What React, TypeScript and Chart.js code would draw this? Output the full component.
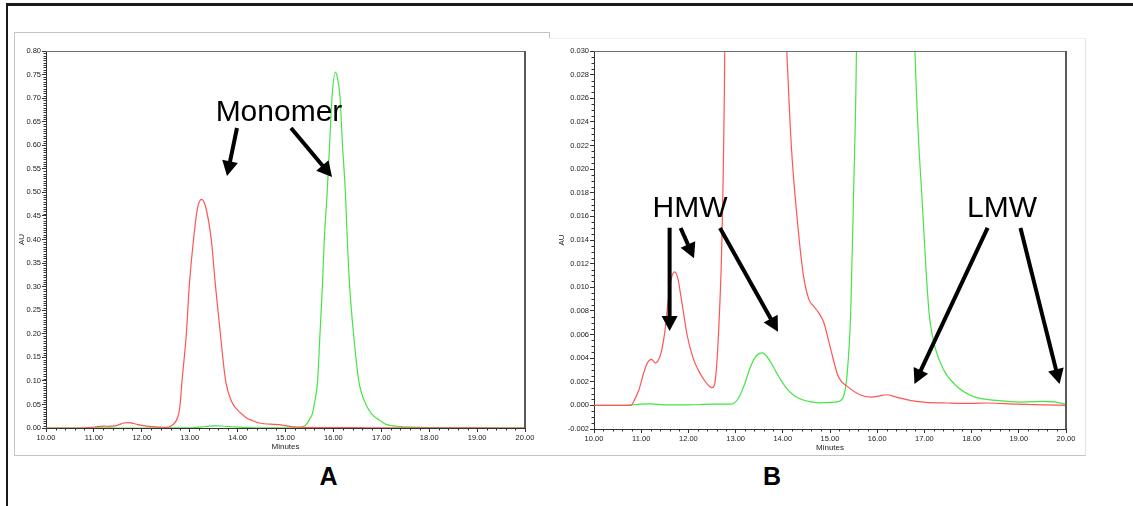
import React, { useEffect, useRef } from "react";
import { Chart, registerables } from "chart.js";

Chart.register(...registerables);

// ---------- data (minutes, AU) ----------
const redTime = [10.0, 10.5, 10.78, 10.85, 10.95, 11.05, 11.13, 11.22, 11.3, 11.36, 11.43, 11.5, 11.57, 11.63, 11.71, 11.78, 11.83, 11.89, 11.97, 12.1, 12.22, 12.36, 12.45, 12.5, 12.55, 12.58, 12.61, 12.66, 12.71, 12.77, 12.8, 12.84, 12.93, 12.99, 13.08, 13.16, 13.25, 13.33, 13.45, 13.54, 13.64, 13.75, 13.88, 14.0, 14.09, 14.18, 14.3, 14.43, 14.55, 14.65, 14.75, 14.87, 15.0, 15.17, 15.4, 15.63, 15.87, 16.05, 16.2, 16.4, 16.72, 17.03, 17.5, 18.0, 18.34, 18.96, 19.5, 20.0];
const redAU = [0, 0, 0, 0.0004, 0.0013, 0.0027, 0.0036, 0.0039, 0.0036, 0.0038, 0.0046, 0.0062, 0.0088, 0.0106, 0.0113, 0.0107, 0.0095, 0.008, 0.006, 0.004, 0.0029, 0.002, 0.0016, 0.0015, 0.0017, 0.0025, 0.004, 0.008, 0.014, 0.03, 0.05, 0.1, 0.2, 0.3, 0.4, 0.465, 0.485, 0.47, 0.4, 0.3, 0.2, 0.1, 0.055, 0.038, 0.0295, 0.022, 0.016, 0.0112, 0.009, 0.0084, 0.0079, 0.007, 0.005, 0.0025, 0.0015, 0.0009, 0.0007, 0.0008, 0.0009, 0.0007, 0.0004, 0.00025, 0.0002, 0.00017, 0.0002, 0.0001, 0.00005, 0];

const greenTime = [10.0, 10.6, 11.0, 11.2, 11.5, 12.0, 12.5, 12.9, 13.0, 13.1, 13.2, 13.31, 13.42, 13.5, 13.57, 13.65, 13.75, 13.85, 13.95, 14.09, 14.25, 14.4, 14.6, 14.8, 15.0, 15.15, 15.22, 15.29, 15.36, 15.44, 15.5, 15.56, 15.6, 15.67, 15.72, 15.77, 15.81, 15.87, 15.92, 15.97, 16.04, 16.09, 16.14, 16.19, 16.25, 16.29, 16.34, 16.42, 16.53, 16.68, 16.8, 16.87, 16.95, 17.03, 17.1, 17.22, 17.41, 17.65, 18.03, 18.58, 19.04, 19.5, 19.74, 20.0];
const greenAU = [0, 0, 0.0001, 0.00012, 0.00005, 0.00005, 0.0001, 0.0001, 0.0003, 0.0009, 0.0019, 0.0032, 0.0041, 0.0044, 0.00445, 0.0042, 0.0036, 0.0029, 0.0022, 0.0014, 0.0008, 0.0005, 0.0003, 0.00022, 0.00025, 0.0003, 0.0004, 0.0008, 0.0025, 0.008, 0.018, 0.03, 0.05, 0.1, 0.2, 0.3, 0.4, 0.5, 0.6, 0.7, 0.755, 0.74, 0.7, 0.6, 0.5, 0.4, 0.3, 0.2, 0.1, 0.05, 0.03, 0.023, 0.0175, 0.0118, 0.0078, 0.005, 0.003, 0.00175, 0.00076, 0.0004, 0.00028, 0.00034, 0.0003, 0.0001];

// annotations in data coordinates (minutes, AU)
type Txt = { text: string; x: number; y: number };
type Arw = { x1: number; y1: number; x2: number; y2: number };

const textsA: Txt[] = [{ text: "Monomer", x: 14.864, y: 0.6515 }];
const arrowsA: Arw[] = [
  { x1: 13.987, y1: 0.6366, x2: 13.779, y2: 0.5347 },
  { x1: 15.115, y1: 0.6366, x2: 15.971, y2: 0.5326 },
];
const textsB: Txt[] = [
  { text: "HMW", x: 12.034, y: 0.01595 },
  { text: "LMW", x: 18.644, y: 0.01595 },
];
const arrowsB: Arw[] = [
  { x1: 11.602, y1: 0.01504, x2: 11.602, y2: 0.0063 },
  { x1: 11.835, y1: 0.01502, x2: 12.119, y2: 0.01245 },
  { x1: 12.669, y1: 0.01502, x2: 13.898, y2: 0.00624 },
  { x1: 18.339, y1: 0.01502, x2: 16.79, y2: 0.00181 },
  { x1: 19.036, y1: 0.01502, x2: 19.864, y2: 0.00181 },
];

const RED = "rgb(255, 85, 85)";
const GREEN = "rgb(70, 228, 70)";
const TICK_FONT = "'Liberation Sans Narrow', 'Liberation Sans', Arial, sans-serif";
const TEXT_FONT = "'Liberation Sans', Arial, sans-serif";

type Panel = {
  left: number; top: number; width: number; height: number;
  yMin: number; yMax: number; yStep: number; yMinor: number; yDigits: number;
  yAxisW: number; xAxisH: number; padRight: number; padTop: number;
  xTitlePad: number; yTitlePad: number;
  texts: Txt[]; arrows: Arw[];
};

const panelA: Panel = {
  left: 14, top: 32, width: 536, height: 424,
  yMin: 0, yMax: 0.8, yStep: 0.05, yMinor: 0.005, yDigits: 2,
  yAxisW: 32, xAxisH: 28, padRight: 25, padTop: 19,
  xTitlePad: 4.5, yTitlePad: 3.2,
  texts: textsA, arrows: arrowsA,
};
const panelB: Panel = {
  left: 549, top: 38, width: 537, height: 418,
  yMin: -0.002, yMax: 0.03, yStep: 0.002, yMinor: 0.0005, yDigits: 3,
  yAxisW: 45, xAxisH: 27, padRight: 20, padTop: 13,
  xTitlePad: 3.5, yTitlePad: 8.2,
  texts: textsB, arrows: arrowsB,
};

function drawArrow(ctx: CanvasRenderingContext2D, x1: number, y1: number, x2: number, y2: number) {
  const dx = x2 - x1, dy = y2 - y1;
  const len = Math.hypot(dx, dy);
  const ux = dx / len, uy = dy / len;
  const hl = 15, hw = 8;
  const bx = x2 - ux * hl, by = y2 - uy * hl;
  ctx.strokeStyle = "#000";
  ctx.lineWidth = 4;
  ctx.lineCap = "butt";
  ctx.beginPath();
  ctx.moveTo(x1, y1);
  ctx.lineTo(bx + ux * 2, by + uy * 2);
  ctx.stroke();
  ctx.fillStyle = "#000";
  ctx.beginPath();
  ctx.moveTo(x2, y2);
  ctx.lineTo(bx - uy * hw, by + ux * hw);
  ctx.lineTo(bx + uy * hw, by - ux * hw);
  ctx.closePath();
  ctx.fill();
}

function buildChart(canvas: HTMLCanvasElement, p: Panel) {
  const xMinor = 0.2, xMajor = 1;
  const overlay = {
    id: "overlay",
    afterDraw(chart: any) {
      const { ctx, chartArea: ca } = chart;
      const xs = chart.scales.x, ys = chart.scales.y;
      ctx.save();
      // top & right frame of plot
      ctx.lineWidth = 1;
      ctx.strokeStyle = "#6e6e6e";
      ctx.beginPath();
      ctx.moveTo(ca.left, Math.round(ca.top) + 0.5);
      ctx.lineTo(ca.right, Math.round(ca.top) + 0.5);
      ctx.stroke();
      ctx.lineWidth = 2;
      ctx.strokeStyle = "#5a5a5a";
      ctx.beginPath();
      ctx.moveTo(Math.round(ca.right), ca.top);
      ctx.lineTo(Math.round(ca.right), ca.bottom);
      ctx.stroke();
      // minor ticks
      ctx.lineWidth = 1;
      ctx.strokeStyle = "#333";
      const nx = Math.round((xs.max - xs.min) / xMinor);
      const rx = Math.round(xMajor / xMinor);
      ctx.beginPath();
      for (let i = 0; i <= nx; i++) {
        if (i % rx === 0) continue;
        const px = Math.round(xs.getPixelForValue(xs.min + i * xMinor)) + 0.5;
        ctx.moveTo(px, ca.bottom);
        ctx.lineTo(px, ca.bottom + 2.5);
      }
      const ny = Math.round((ys.max - ys.min) / p.yMinor);
      const ry = Math.round(p.yStep / p.yMinor);
      for (let i = 0; i <= ny; i++) {
        if (i % ry === 0) continue;
        const py = Math.round(ys.getPixelForValue(ys.min + i * p.yMinor)) + 0.5;
        ctx.moveTo(ca.left, py);
        ctx.lineTo(ca.left - 2.5, py);
      }
      ctx.stroke();
      // annotation texts
      ctx.fillStyle = "#000";
      ctx.font = `30px ${TEXT_FONT}`;
      ctx.textAlign = "center";
      ctx.textBaseline = "alphabetic";
      for (const t of p.texts) {
        ctx.fillText(t.text, xs.getPixelForValue(t.x), ys.getPixelForValue(t.y));
      }
      for (const a of p.arrows) {
        drawArrow(
          ctx,
          xs.getPixelForValue(a.x1), ys.getPixelForValue(a.y1),
          xs.getPixelForValue(a.x2), ys.getPixelForValue(a.y2)
        );
      }
      ctx.restore();
    },
  };

  const redPoints = redTime.map((t, i) => ({ x: t, y: redAU[i] }));
  const greenPoints = greenTime.map((t, i) => ({ x: t, y: greenAU[i] }));

  return new Chart(canvas, {
    type: "line",
    data: {
      datasets: [
        { label: "Red", data: redPoints, borderColor: RED, borderWidth: 1.2, pointRadius: 0, cubicInterpolationMode: "monotone", fill: false },
        { label: "Green", data: greenPoints, borderColor: GREEN, borderWidth: 1.2, pointRadius: 0, cubicInterpolationMode: "monotone", fill: false },
      ],
    },
    options: {
      animation: false,
      responsive: false,
      devicePixelRatio: 1,
      events: [],
      layout: { padding: { left: 0, right: p.padRight, top: p.padTop, bottom: 0 } },
      plugins: { legend: { display: false }, tooltip: { enabled: false } },
      scales: {
        x: {
          type: "linear",
          min: 10,
          max: 20,
          afterFit(s: any) { s.height = p.xAxisH; },
          ticks: {
            stepSize: 1, autoSkip: false, maxRotation: 0, padding: 1,
            color: "#1a1a1a", font: { family: TICK_FONT, size: 7.5 },
            callback: (v: any) => Number(v).toFixed(2),
          },
          grid: { drawOnChartArea: false, drawTicks: true, tickLength: 4, tickColor: "#333", tickWidth: 1 },
          border: { color: "#333", width: 1 },
          title: {
            display: true, text: "Minutes", color: "#222",
            font: { family: TICK_FONT, size: 8 },
            padding: { top: 0, bottom: p.xTitlePad },
          },
        },
        y: {
          type: "linear",
          min: p.yMin,
          max: p.yMax,
          afterFit(s: any) { s.width = p.yAxisW; },
          ticks: {
            stepSize: p.yStep, autoSkip: false, padding: 1,
            color: "#1a1a1a", font: { family: TICK_FONT, size: 7.5 },
            callback: (v: any) => Number(v).toFixed(p.yDigits),
          },
          grid: { drawOnChartArea: false, drawTicks: true, tickLength: 4, tickColor: "#333", tickWidth: 1 },
          border: { color: "#333", width: 1 },
          title: {
            display: true, text: "AU", color: "#222",
            font: { family: TICK_FONT, size: 8 },
            padding: { top: p.yTitlePad, bottom: 0 },
          },
        },
      },
    },
    plugins: [overlay],
  } as any);
}

export default function App() {
  const refA = useRef<HTMLCanvasElement | null>(null);
  const refB = useRef<HTMLCanvasElement | null>(null);

  useEffect(() => {
    const a = refA.current ? buildChart(refA.current, panelA) : null;
    const b = refB.current ? buildChart(refB.current, panelB) : null;
    return () => {
      if (a) a.destroy();
      if (b) b.destroy();
    };
  }, []);

  const labelStyle = (cx: number): React.CSSProperties => ({
    position: "absolute",
    left: cx - 30,
    width: 60,
    top: 464,
    textAlign: "center",
    fontFamily: TEXT_FONT,
    fontWeight: "bold",
    fontSize: 25,
    lineHeight: "25px",
    color: "#000",
  });

  return (
    <div style={{ position: "fixed", left: 0, top: 0, width: 1133, height: 506, background: "#fff", overflow: "hidden" }}>
      <div style={{ position: "absolute", left: 6, top: 3, width: 1200, height: 600, borderTop: "3px solid #1a1a1a", borderLeft: "2px solid #1a1a1a" }} />
      <div style={{ position: "absolute", left: 14, top: 32, width: 536, height: 424, boxSizing: "border-box", border: "1px solid #c3c3c3" }} />
      <canvas ref={refA} width={panelA.width} height={panelA.height}
        style={{ position: "absolute", left: panelA.left, top: panelA.top, width: panelA.width, height: panelA.height }} />
      <div style={{ position: "absolute", left: 549, top: 38, width: 537, height: 418, boxSizing: "border-box", background: "#fff",
        borderTop: "1px solid #efefef", borderRight: "1px solid #e2e2e2", borderBottom: "1px solid #c4c4c4" }} />
      <canvas ref={refB} width={panelB.width} height={panelB.height}
        style={{ position: "absolute", left: panelB.left, top: panelB.top, width: panelB.width, height: panelB.height }} />
      <div style={labelStyle(328.6)}>A</div>
      <div style={labelStyle(772)}>B</div>
    </div>
  );
}
